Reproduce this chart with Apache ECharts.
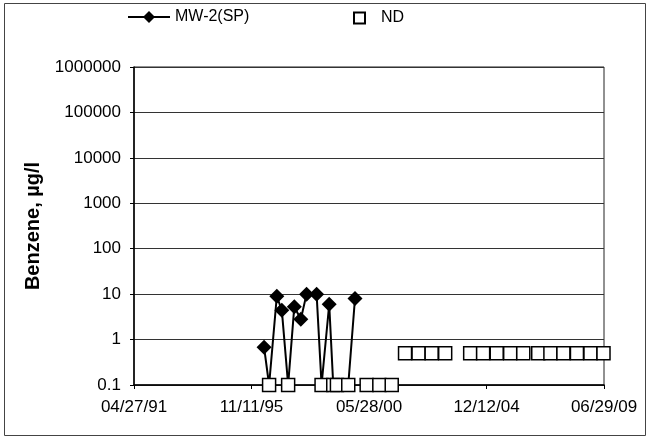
<!DOCTYPE html>
<html>
<head>
<meta charset="utf-8">
<script src="https://cdn.jsdelivr.net/npm/echarts@6/dist/echarts.min.js"></script>
<style>
  html, body { margin: 0; padding: 0; background: #fff; }
  #chart { width: 648px; height: 439px; }
</style>
</head>
<body>
<div id="chart"></div>
<script>
// axis range and tick labels
var xStart = '1991-04-27';
var xEnd = '2009-06-29';
var xTickLabels = ['04/27/91', '11/11/95', '05/28/00', '12/12/04', '06/29/09'];

// MW-2(SP) sampling dates and benzene values (non-detects drawn at 0.1)
var mw2Dates = ['1996-05-07', '1996-07-17', '1996-11-03', '1997-01-13', '1997-04-12',
  '1997-07-08', '1997-10-08', '1997-12-28', '1998-05-19', '1998-07-28',
  '1998-11-13', '1999-01-09', '1999-03-02', '1999-08-09', '1999-11-12'];
var mw2Values = [0.68, 0.1, 9, 4.4, 0.1, 5.3, 2.8, 10, 10, 0.1, 6, 0.1, 0.1, 0.1, 8];

// non-detect results
var ndDates = ['1996-07-17', '1997-04-12', '1998-07-28', '1999-01-09', '1999-03-02',
  '1999-08-09', '2000-04-25', '2000-10-21', '2001-04-14',
  '2001-10-19', '2002-04-28', '2002-10-30', '2003-05-09',
  '2004-04-26', '2004-10-26', '2005-05-06', '2005-11-12', '2006-05-16', '2006-12-13',
  '2007-06-03', '2007-12-04', '2008-06-12', '2008-12-20', '2009-06-22'];
var ndValues = [0.1, 0.1, 0.1, 0.1, 0.1, 0.1, 0.1, 0.1, 0.1,
  0.5, 0.5, 0.5, 0.5,
  0.5, 0.5, 0.5, 0.5, 0.5, 0.5, 0.5, 0.5, 0.5, 0.5, 0.5];

function dayNum(s) {
  var p = s.split('-').map(Number);
  var a = xStart.split('-').map(Number);
  return (Date.UTC(p[0], p[1] - 1, p[2]) - Date.UTC(a[0], a[1] - 1, a[2])) / 86400000;
}

var xMax = dayNum(xEnd);
var xInterval = xMax / (xTickLabels.length - 1);

var mw2Data = mw2Dates.map(function (d, i) { return [dayNum(d), mw2Values[i]]; });
var ndData = ndDates.map(function (d, i) { return [dayNum(d), ndValues[i]]; });

var chart = echarts.init(document.getElementById('chart'));

var option = {
  animation: false,
  textStyle: { fontFamily: 'Liberation Sans, Arial, sans-serif', color: '#000' },
  graphic: [{
    type: 'rect',
    shape: { x: 4.5, y: 3.5, width: 641, height: 432 },
    style: { fill: 'none', stroke: '#444', lineWidth: 1 },
    silent: true
  }],
  legend: [{
    data: ['MW-2(SP)'],
    left: 122,
    top: 4,
    itemWidth: 42,
    itemHeight: 15,
    textStyle: { fontSize: 16, color: '#000' }
  }, {
    data: ['ND'],
    left: 348,
    top: 5,
    itemWidth: 11,
    itemHeight: 11,
    textStyle: { fontSize: 16, color: '#000', padding: [0, 0, 0, 11] }
  }],
  grid: {
    left: 134,
    right: 44,
    top: 67,
    bottom: 54,
    show: true,
    borderColor: '#222',
    borderWidth: 1
  },
  xAxis: {
    type: 'value',
    min: 0,
    max: xMax,
    interval: xInterval,
    axisLine: { lineStyle: { color: '#000', width: 1.5 } },
    axisTick: { show: true, length: 4, lineStyle: { color: '#000' } },
    splitLine: { show: false },
    axisLabel: {
      fontSize: 17,
      color: '#000',
      margin: 14,
      formatter: function (v) { return xTickLabels[Math.round(v / xInterval)]; }
    }
  },
  yAxis: {
    type: 'log',
    logBase: 10,
    min: 0.1,
    max: 1000000,
    splitNumber: 7,
    name: 'Benzene, µg/l',
    nameLocation: 'middle',
    nameGap: 87,
    nameTextStyle: { fontSize: 20, fontWeight: 'bold', color: '#000' },
    axisLine: { show: true, lineStyle: { color: '#000', width: 1.5 } },
    axisTick: { show: true, length: 4, lineStyle: { color: '#000' } },
    splitLine: { show: true, lineStyle: { color: '#333', width: 1 } },
    axisLabel: {
      fontSize: 17,
      color: '#000',
      margin: 13,
      formatter: function (v) { return v < 1 ? v.toFixed(1) : String(Math.round(v)); }
    }
  },
  series: [{
    name: 'MW-2(SP)',
    type: 'line',
    data: mw2Data,
    symbol: 'diamond',
    symbolSize: function (val) { return val[1] <= 0.1 ? 0 : 15; },
    showAllSymbol: true,
    lineStyle: { color: '#000', width: 2 },
    itemStyle: { color: '#000' },
    z: 2
  }, {
    name: 'ND',
    type: 'scatter',
    data: ndData,
    symbol: 'rect',
    symbolSize: 13,
    itemStyle: { color: '#fff', borderColor: '#000', borderWidth: 1.5, opacity: 1 },
    z: 3
  }]
};

chart.setOption(option);
</script>
</body>
</html>
